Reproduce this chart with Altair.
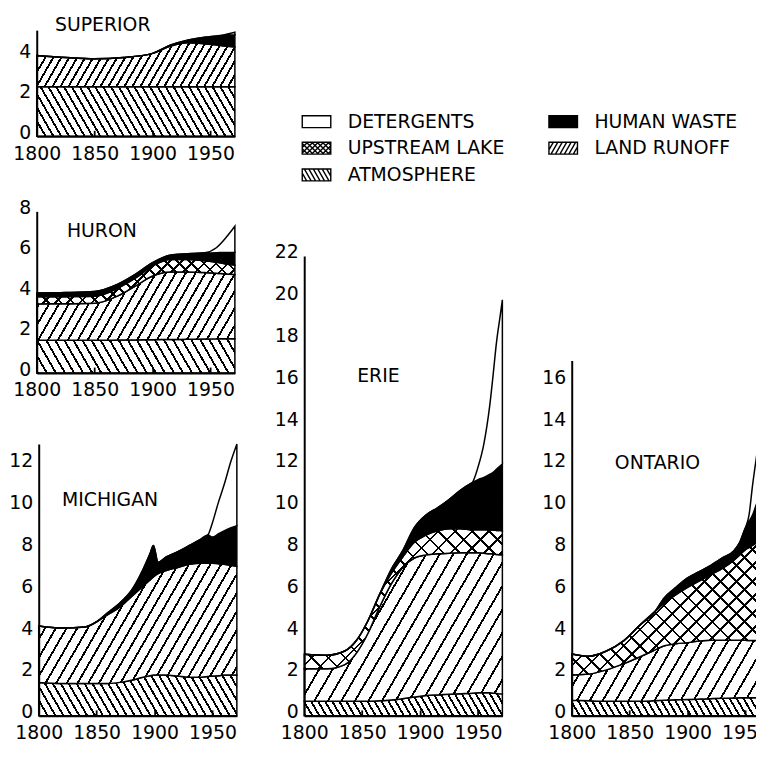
import math
import altair as alt
import pandas as pd

FONT = "DejaVu Sans"
W_CHART, H_CHART = 755, 738
X_DOMAIN = [1800, 1971]
X_TICKS = [1800, 1850, 1900, 1950]
XW = 200  # pixel width of every panel's x range

# ---------------- data (boundary tops of the stacked layers) ----------------
superior_years = [1800, 1825, 1850, 1875, 1900, 1915, 1930, 1945, 1960, 1971]
superior_atm = [2.45, 2.45, 2.45, 2.45, 2.45, 2.45, 2.45, 2.45, 2.45, 2.45]
superior_land = [4.0, 3.9, 3.84, 3.9, 4.1, 4.45, 4.62, 4.58, 4.48, 4.42]
superior_waste = [4.0, 3.9, 3.84, 3.9, 4.1, 4.5, 4.75, 4.9, 4.98, 5.02]
superior_det = [4.0, 3.9, 3.84, 3.9, 4.1, 4.5, 4.75, 4.9, 5.0, 5.15]

huron_years = [1800, 1825, 1850, 1870, 1885, 1900, 1915, 1930, 1945, 1955, 1963, 1971]
huron_atm = [1.62, 1.62, 1.62, 1.63, 1.64, 1.65, 1.66, 1.67, 1.68, 1.69, 1.7, 1.7]
huron_land = [3.42, 3.43, 3.45, 3.82, 4.3, 4.8, 5.0, 5.0, 4.97, 4.94, 4.9, 4.88]
huron_up = [3.77, 3.78, 3.8, 4.2, 4.69, 5.3, 5.62, 5.62, 5.55, 5.48, 5.4, 5.34]
huron_waste = [3.96, 3.98, 4.04, 4.4, 4.88, 5.46, 5.83, 5.9, 5.93, 5.95, 5.97, 5.98]
huron_det = [3.96, 3.98, 4.04, 4.4, 4.88, 5.46, 5.83, 5.9, 5.95, 6.2, 6.68, 7.26]

michigan_years = [1800, 1820, 1840, 1850, 1860, 1870, 1880, 1890, 1896, 1899, 1903,
                  1910, 1920, 1930, 1940, 1946, 1950, 1955, 1960, 1966, 1971]
michigan_atm = [1.6, 1.55, 1.55, 1.55, 1.55, 1.6, 1.7, 1.85, 1.92, 1.95, 1.95,
                1.95, 1.9, 1.85, 1.85, 1.88, 1.9, 1.92, 1.95, 1.95, 1.95]
michigan_land = [4.3, 4.2, 4.25, 4.5, 4.85, 5.2, 5.7, 6.2, 6.5, 6.65, 6.8,
                 6.95, 7.1, 7.25, 7.3, 7.3, 7.3, 7.28, 7.25, 7.2, 7.15]
michigan_waste = [4.3, 4.2, 4.25, 4.5, 4.95, 5.4, 6.0, 7.0, 7.75, 8.15, 7.35,
                  7.6, 7.85, 8.15, 8.45, 8.65, 8.55, 8.7, 8.85, 9.0, 9.1]
michigan_det = [4.3, 4.2, 4.25, 4.5, 4.95, 5.4, 6.0, 7.0, 7.75, 8.15, 7.35,
                7.6, 7.85, 8.15, 8.45, 8.65, 9.25, 10.2, 11.05, 12.2, 13.0]

erie_years = [1800, 1820, 1835, 1845, 1855, 1865, 1875, 1885, 1895, 1905, 1915,
              1925, 1935, 1945, 1950, 1955, 1960, 1963, 1966, 1969, 1971]
erie_atm = [0.7, 0.7, 0.7, 0.7, 0.7, 0.72, 0.76, 0.82, 0.9, 0.97, 1.0,
            1.03, 1.06, 1.08, 1.1, 1.1, 1.1, 1.08, 1.07, 1.05, 1.05]
erie_land = [2.25, 2.25, 2.45, 3.0, 3.95, 5.2, 6.3, 7.1, 7.55, 7.7, 7.75,
             7.78, 7.8, 7.8, 7.8, 7.78, 7.75, 7.75, 7.72, 7.7, 7.7]
erie_up = [2.95, 2.9, 3.1, 3.6, 4.55, 5.8, 6.8, 7.6, 8.3, 8.65, 8.85,
           8.95, 8.95, 8.9, 8.9, 8.9, 8.9, 8.88, 8.87, 8.86, 8.85]
erie_waste = [2.95, 2.9, 3.1, 3.6, 4.55, 5.8, 7.0, 7.9, 9.0, 9.6, 9.95,
              10.35, 10.8, 11.15, 11.3, 11.4, 11.55, 11.65, 11.8, 11.95, 12.05]
erie_det = [2.95, 2.9, 3.1, 3.6, 4.55, 5.8, 7.0, 7.9, 9.0, 9.6, 9.95,
            10.35, 10.8, 11.15, 11.9, 13.0, 14.8, 16.3, 17.9, 19.1, 19.9]

ontario_years = [1800, 1815, 1830, 1845, 1860, 1870, 1880, 1890, 1900, 1910,
                 1920, 1930, 1940, 1945, 1950, 1953, 1956, 1960, 1965, 1971]
ontario_atm = [0.75, 0.72, 0.7, 0.7, 0.7, 0.72, 0.75, 0.77, 0.78, 0.8,
               0.82, 0.84, 0.85, 0.86, 0.86, 0.86, 0.86, 0.86, 0.86, 0.86]
ontario_land = [1.95, 2.0, 2.2, 2.5, 2.85, 3.1, 3.35, 3.45, 3.5, 3.58,
                3.62, 3.62, 3.62, 3.62, 3.61, 3.6, 3.6, 3.6, 3.6, 3.6]
ontario_up = [2.96, 2.85, 3.1, 3.6, 4.4, 4.9, 5.4, 5.8, 6.15, 6.45,
              6.75, 7.05, 7.45, 7.7, 7.95, 8.05, 8.15, 8.3, 8.5, 8.6]
ontario_waste = [2.96, 2.85, 3.1, 3.6, 4.4, 4.85, 5.65, 6.15, 6.6, 6.9,
                 7.2, 7.55, 7.9, 8.3, 9.0, 9.3, 9.6, 10.2, 10.6, 11.0]
ontario_det = [2.96, 2.85, 3.1, 3.6, 4.4, 4.85, 5.65, 6.15, 6.6, 6.9,
               7.2, 7.55, 7.9, 8.3, 9.0, 9.6, 11.0, 12.6, 14.5, 16.0]

# legend entries (column-major order: left column first, then right column)
legend_names = ["DETERGENTS", "UPSTREAM LAKE", "ATMOSPHERE", "HUMAN WASTE", "LAND RUNOFF"]
legend_fills = ["white", "white", "white", "black", "white"]
legend_strokes = ["black", "black", "black", "black", "black"]

# ---------------- panel layout (chart pixel coordinates) ----------------
panels = [
    dict(name="SUPERIOR", years=superior_years, atm=superior_atm, land=superior_land, up=None,
         waste=superior_waste, det=superior_det, ydom=[0, 5.25], yvals=[0, 2, 4],
         x0=29, y0=126, ppu=20.4, tx=47, ty=13, land_sp=6.9, atm_sp=6.9, cross_sp=9),
    dict(name="HURON", years=huron_years, atm=huron_atm, land=huron_land, up=huron_up,
         waste=huron_waste, det=huron_det, ydom=[0, 8], yvals=[0, 2, 4, 6, 8],
         x0=29, y0=365, ppu=20.4, tx=59, ty=221, land_sp=8.7, atm_sp=7.8, cross_sp=8.5),
    dict(name="MICHIGAN", years=michigan_years, atm=michigan_atm, land=michigan_land, up=None,
         waste=michigan_waste, det=michigan_det, ydom=[0, 13], yvals=[0, 2, 4, 6, 8, 10, 12],
         x0=31, y0=711, ppu=21.1, tx=54, ty=493, land_sp=9.5, atm_sp=6.9, cross_sp=10),
    dict(name="ERIE", years=erie_years, atm=erie_atm, land=erie_land, up=erie_up,
         waste=erie_waste, det=erie_det, ydom=[0, 22], yvals=list(range(0, 23, 2)),
         x0=299, y0=711, ppu=21.1, tx=352, ty=368, land_sp=12.1, atm_sp=6.1, cross_sp=12),
    dict(name="ONTARIO", years=ontario_years, atm=ontario_atm, land=ontario_land, up=ontario_up,
         waste=ontario_waste, det=ontario_det, ydom=[0, 17], yvals=list(range(0, 17, 2)),
         x0=569, y0=711, ppu=21.1, tx=612, ty=455, land_sp=11.3, atm_sp=6.1, cross_sp=11.3),
]


def hatch(W, H, angle_deg, spacing, lw, direction, bg="white", fg="black"):
    """Striped linear gradient in bounding-box units that gives lines at angle_deg in pixels."""
    th = math.radians(angle_deg)
    s, c = math.sin(th), math.cos(th)
    q = W * s + H * c
    k = q / (W * W * s * s + H * H * c * c)
    if direction == "/":
        x1, y1, x2, y2 = 0, 0, k * W * s, k * H * c
    else:
        x1, y1, x2, y2 = 0, 1, k * W * s, 1 - k * H * c
    n = max(1, int(round(q / spacing)))
    f = min(0.9, lw / (q / n))
    stops = []
    for i in range(n):
        a = round(i / n, 5)
        b = round((i + f) / n, 5)
        stops += [{"offset": a, "color": bg}, {"offset": a, "color": fg},
                  {"offset": b, "color": fg}, {"offset": b, "color": bg}]
    stops.append({"offset": 1, "color": bg})
    return {"gradient": "linear", "x1": round(x1, 5), "y1": round(y1, 5),
            "x2": round(x2, 5), "y2": round(y2, 5), "stops": stops}


def build_panel(p):
    years = p["years"]
    up = p["up"] if p["up"] is not None else p["land"]
    df = pd.DataFrame({"year": years, "b0": [0.0 for _ in years], "b1": p["atm"],
                       "b2": p["land"], "b3": up, "b4": p["waste"], "b5": p["det"]})
    xs = alt.Scale(domain=X_DOMAIN, range=[p["x0"], p["x0"] + XW], nice=False, zero=False)
    ys = alt.Scale(domain=p["ydom"], range=[p["y0"], p["y0"] - p["ydom"][1] * p["ppu"]],
                   nice=False, zero=False)

    def bbox_h(lo, hi):
        return (max(df[hi]) - min(df[lo])) * p["ppu"]

    x_axis = alt.Axis(orient="bottom", offset=p["y0"] - H_CHART, values=X_TICKS, ticks=False,
                      tickSize=0, labelPadding=8, labelFlush=False, labelOverlap=False,
                      domain=True, domainColor="black", domainWidth=2, grid=False, title=None,
                      labelFont=FONT, labelFontSize=19, labelColor="black", format="d", zindex=1)
    y_axis = alt.Axis(orient="left", offset=-p["x0"], values=p["yvals"], ticks=False, tickSize=0,
                      labelPadding=6, labelOffset=-4, domain=True, domainColor="black",
                      domainWidth=2, grid=False, title=p["name"], titleAngle=0,
                      titleX=p["tx"] - p["x0"], titleY=p["ty"], titleAlign="left",
                      titleBaseline="middle", titleFont=FONT, titleFontSize=19,
                      titleFontWeight="normal", titleColor="black", labelFont=FONT,
                      labelFontSize=19, labelColor="black", format="d", zindex=1)

    def area(lo, hi, fill, stroke="black", first=False):
        return alt.Chart(df).mark_area(fill=fill, stroke=stroke, strokeWidth=1.5,
                                       interpolate="monotone", clip=False).encode(
            x=alt.X("year:Q", scale=xs, axis=x_axis if first else None),
            y=alt.Y(f"{hi}:Q", scale=ys, axis=y_axis if first else None),
            y2=alt.Y2(f"{lo}:Q"),
        )

    layers = [
        area("b0", "b1", hatch(XW, bbox_h("b0", "b1"), 60, p["atm_sp"], 1.9, "\\"), first=True),
        area("b1", "b2", hatch(XW, bbox_h("b1", "b2"), 60, p["land_sp"], 1.9, "/")),
    ]
    if p["up"] is not None:
        hh = bbox_h("b2", "b3")
        layers.append(area("b2", "b3", hatch(XW, hh, 45, p["cross_sp"], 1.9, "/"), stroke=None))
        layers.append(area("b2", "b3", hatch(XW, hh, 45, p["cross_sp"], 1.9, "\\", bg="transparent"),
                           stroke=None))
        layers.append(area("b2", "b3", "transparent"))
    layers.append(area("b3", "b4", "black"))
    layers.append(area("b4", "b5", "white"))

    tick_layer = alt.Chart(df).mark_point(opacity=0).encode(
        x=alt.X("year:Q", scale=xs,
                axis=alt.Axis(orient="top", offset=-p["y0"], labels=False, domain=False, ticks=True,
                              tickSize=6, tickWidth=1.8, tickColor="black", values=[1850, 1900, 1950],
                              grid=False, title=None, zindex=1)),
        y=alt.Y("b1:Q", scale=ys, axis=None),
    )
    layers.append(tick_layer)
    return layers


# ---------------- legend symbols (custom paths) ----------------
def hatch_path(step, d, kind):
    xl, xr = -2.4, 2.4
    segs = []
    a = xl - d
    while a < xr:
        if kind == "/":
            ya, yb = 1, -1
        else:
            ya, yb = -1, 1
        t0 = max(0.0, (xl - a) / d)
        t1 = min(1.0, (xr - a) / d)
        if t1 > t0:
            xa, xb = a + d * t0, a + d * t1
            y0 = ya + (yb - ya) * t0
            y1 = ya + (yb - ya) * t1
            segs.append(f"M{xa:.3f},{y0:.3f}L{xb:.3f},{y1:.3f}")
        a += step
    return "".join(segs)


RECT = "M-2.4,-1H2.4V1H-2.4Z"
legend_paths = [
    RECT,
    RECT + hatch_path(0.9, 2.0, "/") + hatch_path(0.9, 2.0, "\\"),
    RECT + hatch_path(0.75, 1.15, "\\"),
    RECT,
    RECT + hatch_path(0.75, 1.15, "/"),
]

legend_df = pd.DataFrame({"name": legend_names, "lx": [-100.0] * 5, "ly": [-100.0] * 5})
legend = alt.Legend(orient="none", legendX=297, legendY=101.5, columns=2, columnPadding=41,
                    rowPadding=7, symbolOffset=4.9, labelOffset=22, labelFont=FONT,
                    labelFontSize=19, labelColor="black", symbolStrokeWidth=1.4,
                    symbolSize=144, symbolOpacity=1, title=None, padding=0)
legend_layer = alt.Chart(legend_df).mark_point(
    filled=True, clip=True, size=144, opacity=1, strokeWidth=1.4
).encode(
    x=alt.X("lx:Q", scale=alt.Scale(domain=[0, 1], range=[0, 10]), axis=None),
    y=alt.Y("ly:Q", scale=alt.Scale(domain=[0, 1], range=[0, 10]), axis=None),
    fill=alt.Fill("name:N", scale=alt.Scale(domain=legend_names, range=legend_fills), legend=legend),
    stroke=alt.Stroke("name:N", scale=alt.Scale(domain=legend_names, range=legend_strokes),
                      legend=legend),
    shape=alt.Shape("name:N", scale=alt.Scale(domain=legend_names, range=legend_paths), legend=legend),
)

all_layers = []
for p in panels:
    all_layers += build_panel(p)
all_layers.append(legend_layer)

chart = alt.layer(*all_layers).resolve_scale(
    x="independent", y="independent"
).properties(
    width=W_CHART, height=H_CHART, autosize=alt.AutoSizeParams(type="none"), padding=0,
    background="white",
).configure_view(stroke=None)

chart.save("out.html", embed_options={"renderer": "svg", "actions": False})
